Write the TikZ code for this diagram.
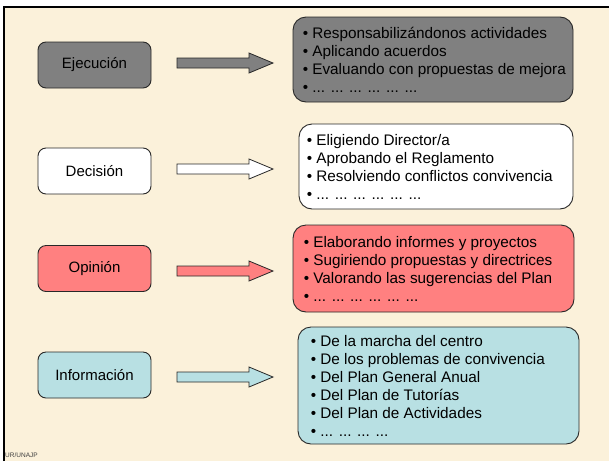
\documentclass[tikz,border=0pt]{standalone}
\usepackage{fontspec}
\setmainfont{Liberation Sans}
\definecolor{bgcream}{RGB}{251,241,218}
\definecolor{boxgray}{RGB}{128,128,128}
\definecolor{boxpink}{RGB}{255,128,128}
\definecolor{boxcyan}{RGB}{184,224,227}
\definecolor{edgecol}{RGB}{40,40,40}
\begin{document}
\begin{tikzpicture}[x=1pt,y=-1pt,
  leftbox/.style={draw=edgecol, line width=0.9pt, rounded corners=8pt,
    minimum width=113pt, minimum height=46pt, inner sep=0pt,
    font=\fontsize{15}{18}\selectfont},
  listbox/.style={draw=edgecol, line width=0.9pt, rounded corners=13pt, inner sep=0pt},
  listtext/.style={anchor=west, align=left, inner sep=0pt,
    font=\fontsize{15.3}{18}\selectfont},
  blockarrow/.style={draw=edgecol, line width=0.8pt, line join=miter}]
\useasboundingbox (0,0) rectangle (609,461);
\fill[white] (0,0) rectangle (609,461);
\fill[bgcream] (4,7) rectangle (609,461);
\draw[black, line width=2.3pt] (4,461) -- (4,7) -- (609,7);

% left boxes
\node[leftbox, fill=boxgray] (ejec) at (94.5,65) {Ejecución};
\node[leftbox, fill=white] (deci) at (94.5,171) {Decisión};
\node[leftbox, fill=boxpink] (opin) at (94.5,268.5) {Opinión};
\node[leftbox, fill=boxcyan] (info) at (94.5,375) {Información};

% block arrows
\foreach \cy/\col in {63/boxgray, 169/white, 271/boxpink, 377/boxcyan}{
  \filldraw[blockarrow, fill=\col] (177,\cy-5) -- (249,\cy-5) -- (249,\cy-10)
    -- (273,\cy) -- (249,\cy+10) -- (249,\cy+5) -- (177,\cy+5) -- cycle;
}

% right boxes
\node[listbox, fill=boxgray, minimum width=280pt, minimum height=85pt] (ejecbox) at (433,59.5) {};
\node[listtext] (ejectext) at ([xshift=10pt]ejecbox.west) {%
• Responsabilizándonos actividades\\
• Aplicando acuerdos\\
• Evaluando con propuestas de mejora\\
• ... ... ... ... ... ...};

\node[listbox, fill=white, minimum width=274pt, minimum height=85pt] (decibox) at (436,166.5) {};
\node[listtext] (decitext) at ([xshift=8pt]decibox.west) {%
• Eligiendo Director/a\\
• Aprobando el Reglamento\\
• Resolviendo conflictos convivencia\\
• ... ... ... ... ... ...};

\node[listbox, fill=boxpink, minimum width=281pt, minimum height=87pt] (opinbox) at (433.5,268.5) {};
\node[listtext] (opintext) at ([xshift=11pt]opinbox.west) {%
• Elaborando informes y proyectos\\
• Sugiriendo propuestas y directrices\\
• Valorando las sugerencias del Plan\\
• ... ... ... ... ... ...};

\node[listbox, fill=boxcyan, minimum width=281pt, minimum height=117pt] (infobox) at (438.5,385.5) {};
\node[listtext] (infotext) at ([xshift=13pt]infobox.west) {%
• De la marcha del centro\\
• De los problemas de convivencia\\
• Del Plan General Anual\\
• Del Plan de Tutorías\\
• Del Plan de Actividades\\
• ... ... ... ...};

\node[anchor=west, inner sep=0pt, text=black!75, font=\fontsize{6.5}{7}\selectfont] (stamp) at (5,455.5) {UR/UNAJP};
\end{tikzpicture}
\end{document}
